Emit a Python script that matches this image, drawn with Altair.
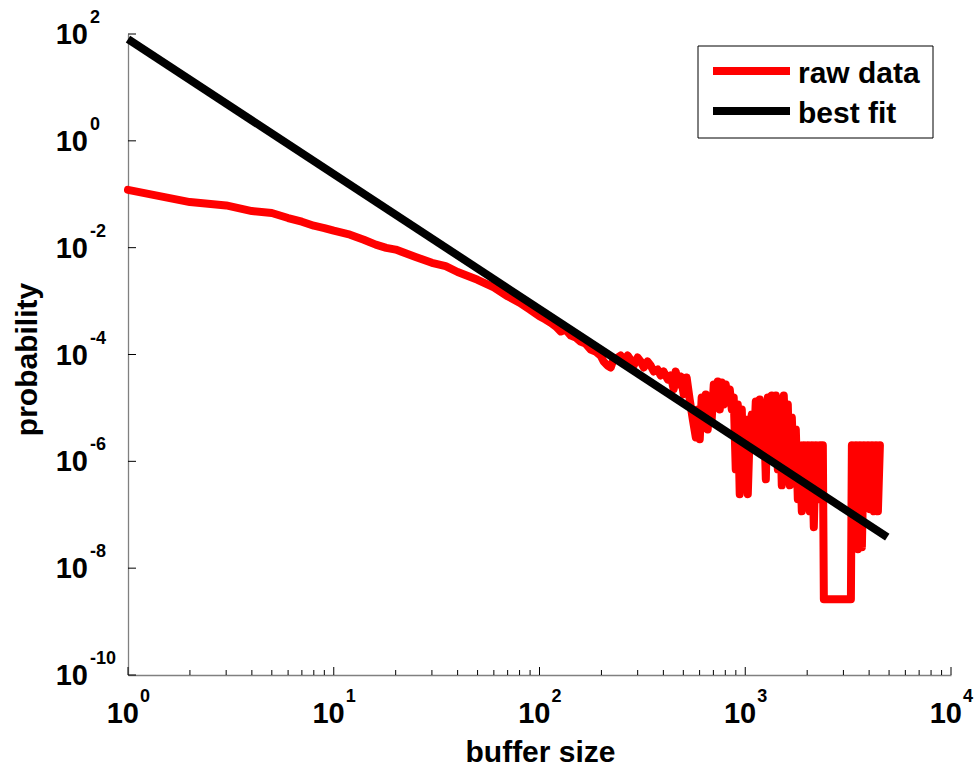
import altair as alt
import pandas as pd

# ---------------- data ----------------
raw_x = [1, 2, 3, 4, 5, 6, 7, 8, 9, 10, 12, 14, 16, 18, 20, 25, 30, 35, 40, 50, 60, 70, 80, 90, 100,
         107, 113, 120, 127, 134, 142, 150, 158, 167, 177, 187, 198, 205, 214, 222, 229, 240, 248,
         256, 268, 277, 287, 300, 310, 321, 335, 347, 359, 375, 388, 401, 420, 434, 449, 459, 475,
         486, 502, 519, 537, 556, 575, 588, 601, 614, 628, 643, 657, 672, 687, 703, 719, 735, 752,
         769, 786, 804, 822, 841, 860, 879, 899, 920, 940, 962, 983, 1006, 1029, 1052, 1076, 1100,
         1125, 1150, 1177, 1203, 1230, 1259, 1287, 1316, 1346, 1376, 1408, 1440, 1472, 1505, 1539,
         1574, 1610, 1647, 1684, 1722, 1761, 1801, 1842, 1883, 1926, 1970, 2014, 2060, 2107, 2154,
         2203, 2253, 2304, 2383, 2410, 3262, 3298, 3373, 3449, 3527, 3607, 3689, 3772, 3857, 3945,
         4034, 4126, 4219, 4315, 4413, 4513]
raw_y = [0.121, 0.0714, 0.0618, 0.0485, 0.0445, 0.0359, 0.0306, 0.0258, 0.0233, 0.0208, 0.0175,
         0.0141, 0.0114, 0.0099, 0.0092, 0.0067, 0.0052, 0.0045, 0.0035, 0.0025, 0.0018, 0.00123,
         0.00093, 0.00069, 0.00052,
         4.51e-4, 3.96e-4, 3.34e-4, 2.69e-4, 2.93e-4, 2.26e-4, 2.08e-4, 1.75e-4, 1.61e-4, 1.24e-4,
         1.14e-4, 9.58e-5, 7.40e-5, 6.23e-5, 5.71e-5, 8.06e-5, 8.79e-5, 9.58e-5, 7.40e-5, 9.58e-5,
         8.06e-5, 6.23e-5, 8.79e-5, 7.40e-5, 5.71e-5, 7.40e-5, 6.23e-5, 4.81e-5, 5.24e-5, 4.05e-5,
         4.81e-5, 3.41e-5, 4.05e-5, 2.22e-5, 4.81e-5, 2.75e-5, 3.88e-5, 1.79e-5, 3.72e-5, 1.44e-5,
         6.10e-6, 2.81e-6, 9.37e-6, 2.58e-6, 1.57e-5, 4.91e-6, 1.79e-5, 3.96e-6, 1.57e-5, 6.10e-6,
         2.75e-5, 1.44e-5, 3.13e-5, 9.37e-6, 3.00e-5, 1.16e-5, 2.75e-5, 1.44e-5, 2.22e-5, 9.37e-6,
         1.57e-5, 7.09e-7, 1.16e-5, 2.42e-7, 9.37e-6, 4.61e-7, 6.10e-6, 2.42e-7, 3.96e-6, 7.56e-6,
         1.68e-6, 1.32e-5, 2.58e-6, 1.44e-5, 1.35e-6, 1.16e-5, 4.61e-7, 1.57e-5, 1.09e-6, 1.71e-5,
         3.96e-6, 1.71e-5, 7.09e-7, 1.44e-5, 3.56e-7, 1.71e-5, 1.68e-6, 1.16e-5, 3.56e-7, 6.64e-6,
         7.09e-7, 3.96e-6, 1.95e-7, 1.99e-6, 1.16e-7, 1.99e-6, 3.00e-7, 1.99e-6, 1.16e-7, 1.99e-6,
         5.84e-8, 1.99e-6, 1.95e-7, 1.99e-6, 1.99e-6, 2.63e-9, 2.63e-9, 1.99e-6, 1.95e-7, 1.99e-6,
         2.27e-8, 1.99e-6, 2.47e-8, 1.99e-6, 1.95e-7, 1.99e-6, 1.27e-7, 1.99e-6, 1.16e-7, 1.99e-6,
         1.16e-7, 1.99e-6]

fit_x = [1, 4900]
fit_y = [80, 3.8e-8]

x_tick_exps = [0, 1, 2, 3, 4]
x_minor_mult = [2, 3, 4, 5, 6, 7, 8, 9]
y_tick_exps = [2, 0, -2, -4, -6, -8, -10]

legend_labels = ["raw data", "best fit"]
legend_colors = ["#ff0000", "#000000"]
x_title = "buffer size"
y_title = "probability"

# ---------------- layout ----------------
W, H = 823, 641
FONT = "Liberation Sans"

xs = alt.Scale(type="log", domain=[1, 1e4], nice=False)
ys = alt.Scale(type="log", domain=[1e-10, 1e2], nice=False)

raw_df = pd.DataFrame({"x": raw_x, "y": raw_y})
fit_df = pd.DataFrame({"x": fit_x, "y": fit_y})
xmaj_df = pd.DataFrame({"x": [10.0 ** e for e in x_tick_exps], "e": [str(e) for e in x_tick_exps]})
xmin_df = pd.DataFrame({"x": [m * 10.0 ** k for k in x_tick_exps[:-1] for m in x_minor_mult]})
ymaj_df = pd.DataFrame({"y": [10.0 ** e for e in y_tick_exps], "e": [str(e) for e in y_tick_exps]})

x_axis = alt.Axis(
    ticks=False, labels=False, grid=False,
    domainColor="#808080", domainWidth=1.3,
    titleFont=FONT, titleFontSize=30, titleFontWeight="bold", titleColor="black",
    titleX=412, titleY=86, titleAlign="center", titleBaseline="alphabetic", titleAngle=0,
)
y_axis = alt.Axis(
    ticks=False, labels=False, grid=False,
    domainColor="#808080", domainWidth=1.3,
    titleFont=FONT, titleFontSize=30, titleFontWeight="bold", titleColor="black",
    titleX=-92, titleY=325, titleAlign="center", titleBaseline="alphabetic", titleAngle=270,
)


def X():
    return alt.X("x:Q", scale=xs, title=x_title, axis=x_axis)


def Y():
    return alt.Y("y:Q", scale=ys, title=y_title, axis=y_axis)


raw_line = alt.Chart(raw_df).mark_line(
    color="#ff0000", strokeWidth=8, strokeJoin="round", strokeCap="round"
).encode(x=X(), y=Y())

fit_line = alt.Chart(fit_df).mark_line(
    color="#000000", strokeWidth=8, strokeCap="butt"
).encode(x=X(), y=Y())

# inward ticks
xmaj_ticks = alt.Chart(xmaj_df).mark_rule(color="black", strokeWidth=1).encode(
    x=X(), y=alt.value(H), y2=alt.value(H - 8))
xmin_ticks = alt.Chart(xmin_df).mark_rule(color="black", strokeWidth=1).encode(
    x=X(), y=alt.value(H), y2=alt.value(H - 5))
ymaj_ticks = alt.Chart(ymaj_df).mark_rule(color="black", strokeWidth=1).encode(
    y=Y(), x=alt.value(0), x2=alt.value(8))

# tick labels: base "10" + superscript exponent
xlab_base = alt.Chart(xmaj_df).mark_text(
    font=FONT, fontSize=29, fontWeight="bold", color="black",
    align="right", baseline="alphabetic", dx=11, dy=48, text="10"
).encode(x=X(), y=alt.value(H))
xlab_exp = alt.Chart(xmaj_df).mark_text(
    font=FONT, fontSize=18, fontWeight="bold", color="black",
    align="left", baseline="alphabetic", dx=12, dy=27
).encode(x=X(), y=alt.value(H), text="e:N")

ylab_base = alt.Chart(ymaj_df).mark_text(
    font=FONT, fontSize=29, fontWeight="bold", color="black",
    align="right", baseline="alphabetic", dy=10, text="10"
).encode(y=Y(), x=alt.value(-40))
ylab_exp = alt.Chart(ymaj_df).mark_text(
    font=FONT, fontSize=18, fontWeight="bold", color="black",
    align="left", baseline="alphabetic", dy=-11
).encode(y=Y(), x=alt.value(-38), text="e:N")

# legend
one = alt.Data(values=[{}])
leg_box = alt.Chart(one).mark_rect(fill="white", stroke="black", strokeWidth=1).encode(
    x=alt.value(570), x2=alt.value(805), y=alt.value(12), y2=alt.value(104))
leg_layers = [leg_box]
for i, (lab, col) in enumerate(zip(legend_labels, legend_colors)):
    yy = 37 + 40 * i
    leg_layers.append(
        alt.Chart(one).mark_rule(color=col, strokeWidth=8, strokeCap="butt").encode(
            x=alt.value(585), x2=alt.value(662), y=alt.value(yy)))
    leg_layers.append(
        alt.Chart(one).mark_text(
            font=FONT, fontSize=30, fontWeight="bold", color="black",
            align="left", baseline="alphabetic", text=lab
        ).encode(x=alt.value(670), y=alt.value(yy + 12)))

chart = alt.layer(
    raw_line, fit_line, xmaj_ticks, xmin_ticks, ymaj_ticks,
    xlab_base, xlab_exp, ylab_base, ylab_exp, *leg_layers
).properties(
    width=W, height=H,
    autosize=alt.AutoSizeParams(type="none"),
    padding={"left": 128, "top": 34, "right": 979 - 128 - W, "bottom": 769 - 34 - H},
    background="white",
).configure_view(stroke=None)

chart.save("out.html", embed_options={"renderer": "svg", "actions": False})
